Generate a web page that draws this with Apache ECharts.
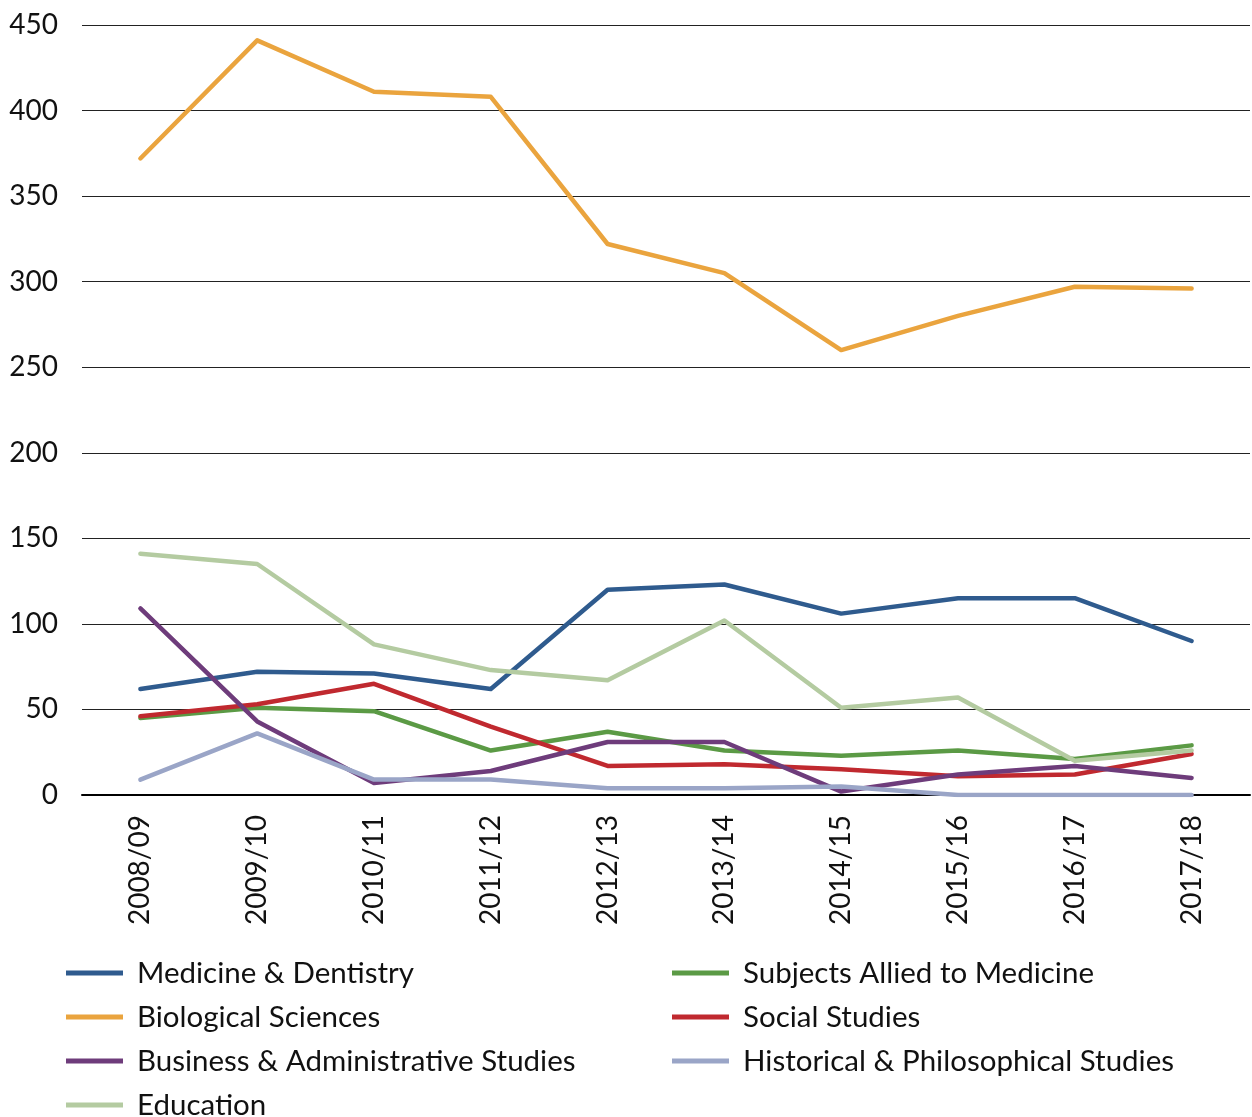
<!DOCTYPE html>
<html>
<head>
<meta charset="utf-8">
<script src="https://cdn.jsdelivr.net/npm/echarts@6/dist/echarts.min.js"></script>
<style>
  html, body { margin: 0; padding: 0; background: #fff; }
  #chart { width: 1252px; height: 1117px; }
</style>
</head>
<body>
<div id="chart"></div>
<script>
// Academic years on the category axis
const years = ['2008/09', '2009/10', '2010/11', '2011/12', '2012/13',
               '2013/14', '2014/15', '2015/16', '2016/17', '2017/18'];

// Values per subject area
const medicineDentistry     = [62, 72, 71, 62, 120, 123, 106, 115, 115, 90];
const subjectsAllied        = [45, 51, 49, 26, 37, 26, 23, 26, 21, 29];
const biologicalSciences    = [372, 441, 411, 408, 322, 305, 260, 280, 297, 296];
const socialStudies         = [46, 53, 65, 40, 17, 18, 15, 11, 12, 24];
const businessAdmin         = [109, 43, 7, 14, 31, 31, 2, 12, 17, 10];
const historicalPhilosophy  = [9, 36, 9, 9, 4, 4, 5, 0, 0, 0];
const education             = [141, 135, 88, 73, 67, 102, 51, 57, 20, 26];

// Y axis tick values
const yTicks = { min: 0, max: 450, step: 50 };

const FONT = 'Lato';

const seriesDefs = [
  { name: 'Medicine & Dentistry', data: medicineDentistry, color: '#2f5b8e' },
  { name: 'Subjects Allied to Medicine', data: subjectsAllied, color: '#5b9a45' },
  { name: 'Biological Sciences', data: biologicalSciences, color: '#eaa43e' },
  { name: 'Social Studies', data: socialStudies, color: '#c0292f' },
  { name: 'Business & Administrative Studies', data: businessAdmin, color: '#6e3c7b' },
  { name: 'Historical & Philosophical Studies', data: historicalPhilosophy, color: '#9aa5c7' },
  { name: 'Education', data: education, color: '#b4cba1' }
];

const legendCommon = {
  orient: 'vertical',
  icon: 'rect',
  itemWidth: 57,
  itemHeight: 5,
  itemGap: 14,
  padding: 0,
  height: 200,
  textStyle: { fontFamily: FONT, fontSize: 29.5, color: '#111', padding: [0, 0, 0, 9] }
};

const chart = echarts.init(document.getElementById('chart'), null, { renderer: 'canvas' });
chart.setOption({
  animation: false,
  backgroundColor: '#fff',
  grid: { left: 82, right: 2, top: 25, bottom: 322, containLabel: false },
  legend: [
    Object.assign({}, legendCommon, {
      left: 66, top: 958,
      data: ['Medicine & Dentistry', 'Biological Sciences',
             'Business & Administrative Studies', 'Education']
    }),
    Object.assign({}, legendCommon, {
      left: 672, top: 958,
      data: ['Subjects Allied to Medicine', 'Social Studies',
             'Historical & Philosophical Studies']
    })
  ],
  xAxis: {
    type: 'category',
    data: years,
    boundaryGap: true,
    axisLine: { show: true, lineStyle: { color: '#000', width: 2 } },
    axisTick: { show: false },
    axisLabel: {
      rotate: 90, margin: 20,
      fontFamily: FONT, fontSize: 28, color: '#111'
    }
  },
  yAxis: {
    type: 'value',
    min: yTicks.min, max: yTicks.max, interval: yTicks.step,
    axisLine: { show: false },
    axisTick: { show: false },
    axisLabel: { margin: 24, fontFamily: FONT, fontSize: 28, color: '#111' },
    splitLine: { show: true, lineStyle: { color: '#222', width: 1 } }
  },
  series: seriesDefs.map(s => ({
    name: s.name,
    type: 'line',
    data: s.data,
    symbol: 'none',
    color: s.color,
    lineStyle: { width: 4.5, color: s.color, cap: 'round', join: 'round' }
  }))
});
</script>
</body>
</html>
